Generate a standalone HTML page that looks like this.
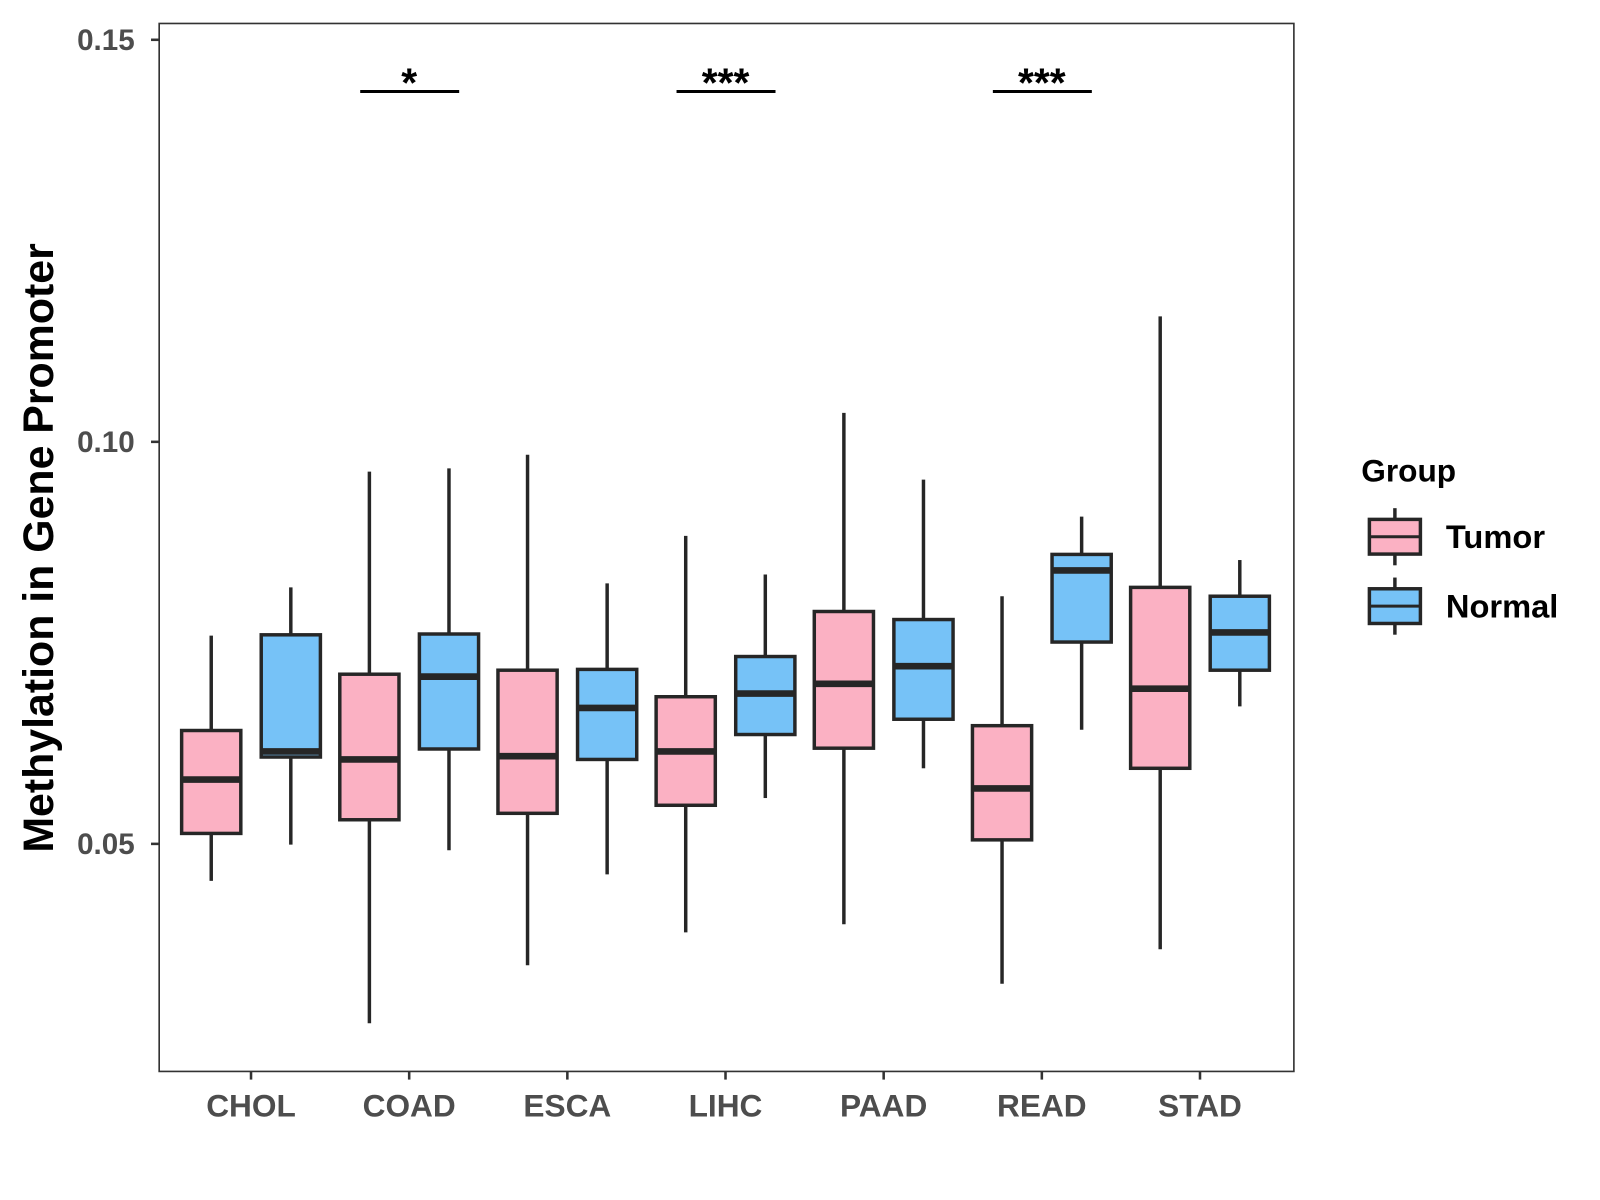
<!DOCTYPE html>
<html><head><meta charset="utf-8"><style>
html,body{margin:0;padding:0;background:#fff;}
svg{display:block;font-family:"Liberation Sans",Arial,sans-serif;font-weight:bold;}
</style></head><body>
<svg id="chart" width="1600" height="1200" viewBox="0 0 1568 1176" xmlns="http://www.w3.org/2000/svg">
<rect x="0" y="0" width="1568" height="1176" fill="#fff"/>
<g id="plot"></g>
</svg>
<script>
const categories = ["CHOL","COAD","ESCA","LIHC","PAAD","READ","STAD"];
const groups = ["Tumor","Normal"];
// [lowerWhisker, q1, median, q3, upperWhisker]
const tumorStats = [
 [0.0454,0.0513,0.0580,0.0641,0.0759],
 [0.0277,0.0530,0.0605,0.0711,0.0963],
 [0.0349,0.0538,0.0609,0.0716,0.0984],
 [0.0390,0.0548,0.0615,0.0683,0.0883],
 [0.0400,0.0619,0.0699,0.0789,0.1036],
 [0.0326,0.0505,0.0569,0.0647,0.0808],
 [0.0369,0.0594,0.0693,0.0819,0.1156]
];
const normalStats = [
 [0.0499,0.0608,0.0615,0.0760,0.0819],
 [0.0492,0.0618,0.0708,0.0761,0.0967],
 [0.0462,0.0605,0.0669,0.0717,0.0824],
 [0.0557,0.0636,0.0687,0.0733,0.0835],
 [0.0594,0.0655,0.0721,0.0779,0.0953],
 [0.0642,0.0751,0.0840,0.0860,0.0907],
 [0.0671,0.0716,0.0763,0.0808,0.0853]
];
const yTicks = [0.05,0.10,0.15];
const yTickLabels = ["0.05","0.10","0.15"];
const sigCategories = ["COAD","LIHC","READ"];
const sigLabels = ["*","***","***"];
const sigValue = 0.1437;

const NS="http://www.w3.org/2000/svg";
const g=document.getElementById('plot');
const P={l:156,r:1268,t:23,b:1050};
function y(v){return 433-(v-0.10)*7880;}
function x(i){return 246+i*155;}
function el(tag,attrs,parent){const e=document.createElementNS(NS,tag);for(const k in attrs)e.setAttribute(k,attrs[k]);(parent||g).appendChild(e);return e;}

const panel=el('rect',{x:P.l,y:P.t,width:P.r-P.l,height:P.b-P.t,fill:'#fff',stroke:'#333','stroke-width':1.6});



yTicks.forEach((v,i)=>{
  const t=el('line',{x1:P.l-8,x2:P.l,y1:y(v),y2:y(v),stroke:'#333','stroke-width':2.5});
  
  
  const tx=el('text',{x:P.l-24,y:y(v)+10,'text-anchor':'end','font-size':29,fill:'#4d4d4d'});
  tx.textContent=yTickLabels[i];
  
  
});
categories.forEach((c,i)=>{
  const t=el('line',{x1:x(i),x2:x(i),y1:P.b,y2:P.b+8,stroke:'#333','stroke-width':2.5});
  
  
  const tx=el('text',{x:x(i),y:P.b+44,'text-anchor':'middle','font-size':31,fill:'#4d4d4d'});
  tx.textContent=c;
  
  
});
const yt=el('text',{x:0,y:0,transform:'translate(52,537) rotate(-90)','text-anchor':'middle','font-size':42,fill:'#000'});
yt.textContent='Methylation in Gene Promoter';



function box(cx,s,fill,name,w){
  const grp=el('g',{});
  
  
  const st={stroke:'#262626','stroke-width':3.4};
  el('line',Object.assign({x1:cx,x2:cx,y1:y(s[4]),y2:y(s[3])},st),grp);
  el('line',Object.assign({x1:cx,x2:cx,y1:y(s[1]),y2:y(s[0])},st),grp);
  el('rect',Object.assign({x:cx-w/2,y:y(s[3]),width:w,height:y(s[1])-y(s[3]),fill:fill},st),grp);
  el('line',{x1:cx-w/2,x2:cx+w/2,y1:y(s[2]),y2:y(s[2]),stroke:'#262626','stroke-width':6.5},grp);
}
categories.forEach((c,i)=>{
  box(x(i)-39,tumorStats[i],'#FBB1C3','box-tumor-'+c.toLowerCase(),58);
  box(x(i)+39,normalStats[i],'#76C2F7','box-normal-'+c.toLowerCase(),58);
});
sigCategories.forEach((c,k)=>{
  const i=categories.indexOf(c);
  const l=el('line',{x1:x(i)-48,x2:x(i)+49,y1:y(sigValue)+1,y2:y(sigValue)+1,stroke:'#000','stroke-width':3});
  
  
  const t=el('text',{x:x(i),y:y(sigValue)+6,'text-anchor':'middle','font-size':40,fill:'#000'});
  t.textContent=sigLabels[k];
  
  
});
const lg=el('g',{});


const lt=el('text',{x:1334,y:472,'font-size':31,fill:'#000'},lg);
lt.textContent='Group';


[['Tumor','#FBB1C3',526],['Normal','#76C2F7',594]].forEach(([n,f,cy])=>{
  const e=el('g',{},lg);
  
  
  el('line',{x1:1367,x2:1367,y1:cy-28,y2:cy+28,stroke:'#262626','stroke-width':3.4},e);
  el('rect',{x:1342,y:cy-17,width:50,height:34,fill:f,stroke:'#262626','stroke-width':3.4},e);
  el('line',{x1:1342,x2:1392,y1:cy,y2:cy,stroke:'#262626','stroke-width':3},e);
  const t=el('text',{x:1417,y:cy+11,'font-size':32,fill:'#000'},e);
  t.textContent=n;
});
</script>
</body></html>
